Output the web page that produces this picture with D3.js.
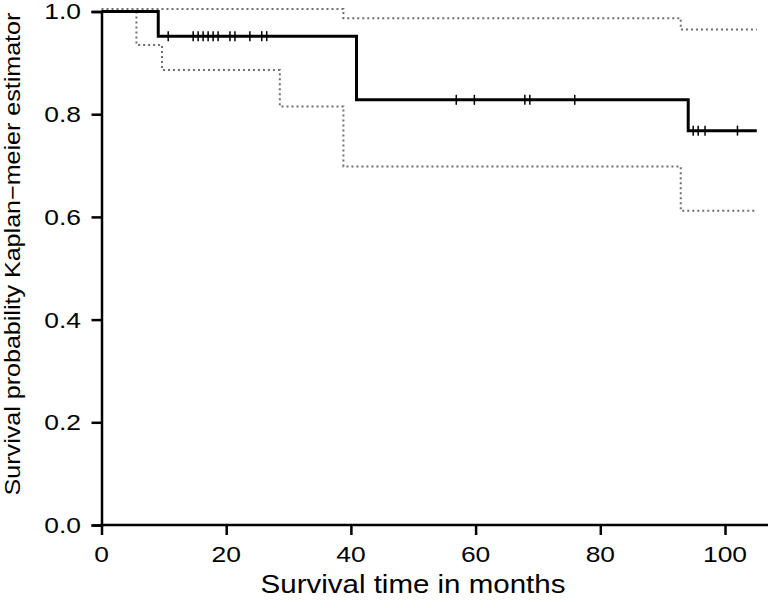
<!DOCTYPE html>
<html>
<head>
<meta charset="utf-8">
<script src="https://cdn.jsdelivr.net/npm/d3@7"></script>
<style>
  html, body { margin: 0; padding: 0; background: #fff; }
  svg { display: block; }
  text { font-family: "Liberation Sans", Arial, sans-serif; fill: #000; }
</style>
</head>
<body>
<svg id="chart" width="768" height="608"></svg>
<script>
// Kaplan-Meier estimate (step function)
const kmTimes = [0, 9.1, 40.9, 94.1, 105.1];
const kmSurv = [1.0, 0.952, 0.828, 0.768, 0.768];

// confidence band, upper and lower
const upperTimes = [0, 38.8, 92.9, 105.1];
const upperSurv = [1.005, 0.987, 0.965, 0.965];
const lowerTimes = [0, 5.6, 9.7, 28.6, 38.8, 92.9, 105.1];
const lowerSurv = [1.0, 0.935, 0.886, 0.815, 0.698, 0.612, 0.612];

// censored observations
const censorTimes = [10.7, 14.7, 15.5, 16.3, 17.1, 17.9, 18.7, 20.6, 21.4, 23.8, 25.7, 26.5,
  56.9, 59.8, 67.9, 68.7, 75.9, 94.9, 95.7, 96.8, 102.0];

const xTicks = [0, 20, 40, 60, 80, 100];
const yTicks = [0, 0.2, 0.4, 0.6, 0.8, 1.0];

const width = 768;
const height = 608;
const svg = d3.select("#chart");

const x = d3.scaleLinear().domain([0, 100]).range([101.5, 725]);
const y = d3.scaleLinear().domain([0, 1]).range([525, 11.5]);

const zip = (ts, ss) => ts.map((t, i) => ({ t: t, s: ss[i] }));

const step = d3.line()
  .x(d => x(d.t))
  .y(d => y(d.s))
  .curve(d3.curveStepAfter);

// survival value at time t from the KM step function
const survAt = (t) => {
  let s = kmSurv[0];
  kmTimes.forEach((kt, i) => { if (kt <= t) s = kmSurv[i]; });
  return s;
};

// dotted confidence limits
[zip(upperTimes, upperSurv), zip(lowerTimes, lowerSurv)].forEach(band => {
  svg.append("path")
    .attr("d", step(band))
    .attr("fill", "none")
    .attr("stroke", "#6e6e6e")
    .attr("stroke-width", 2)
    .attr("stroke-dasharray", "2,3");
});

// axes (labels drawn separately, the original font is wider than Arial)
const yAxis = d3.axisLeft(y)
  .tickValues(yTicks)
  .tickFormat("")
  .tickSizeOuter(0)
  .tickSize(10);

const gy = svg.append("g")
  .attr("transform", `translate(${x(0)},0)`)
  .call(yAxis);
gy.select(".domain").attr("stroke-width", 2.5);
gy.selectAll(".tick line").attr("stroke-width", 2.5);

const xAxis = d3.axisBottom(x)
  .tickValues(xTicks)
  .tickFormat("")
  .tickSizeOuter(0)
  .tickSize(10);

const gx = svg.append("g")
  .attr("transform", `translate(0,${y(0)})`)
  .call(xAxis);
gx.select(".domain").remove();
gx.selectAll(".tick line").attr("stroke-width", 2.5);

// bottom frame line runs to the right edge
svg.append("line")
  .attr("x1", x(0) - 1)
  .attr("x2", width)
  .attr("y1", y(0))
  .attr("y2", y(0))
  .attr("stroke", "#000")
  .attr("stroke-width", 2.5);

// tick labels
svg.append("g")
  .selectAll("text")
  .data(yTicks)
  .join("text")
  .attr("transform", d => `translate(81,${y(d)}) scale(1.2,1)`)
  .attr("dy", "0.36em")
  .attr("text-anchor", "end")
  .style("font-size", "22px")
  .text(d3.format(".1f"));

svg.append("g")
  .selectAll("text")
  .data(xTicks)
  .join("text")
  .attr("transform", d => `translate(${x(d)},562) scale(1.2,1)`)
  .attr("text-anchor", "middle")
  .style("font-size", "22px")
  .text(d => d);

// KM curve
svg.append("path")
  .attr("d", step(zip(kmTimes, kmSurv)))
  .attr("fill", "none")
  .attr("stroke", "#000")
  .attr("stroke-width", 3);

// censor marks
svg.append("g")
  .selectAll("line")
  .data(censorTimes)
  .join("line")
  .attr("x1", d => x(d))
  .attr("x2", d => x(d))
  .attr("y1", d => y(survAt(d)) - 5)
  .attr("y2", d => y(survAt(d)) + 5)
  .attr("stroke", "#000")
  .attr("stroke-width", 1.5);

// axis titles
svg.append("text")
  .attr("transform", "translate(413,593) scale(1.18,1)")
  .attr("text-anchor", "middle")
  .style("font-size", "25px")
  .text("Survival time in months");

svg.append("text")
  .attr("transform", "translate(20,254) rotate(-90) scale(1.14,1)")
  .attr("text-anchor", "middle")
  .style("font-size", "22px")
  .text("Survival probability Kaplan\u2212meier estimator");
</script>
</body>
</html>
